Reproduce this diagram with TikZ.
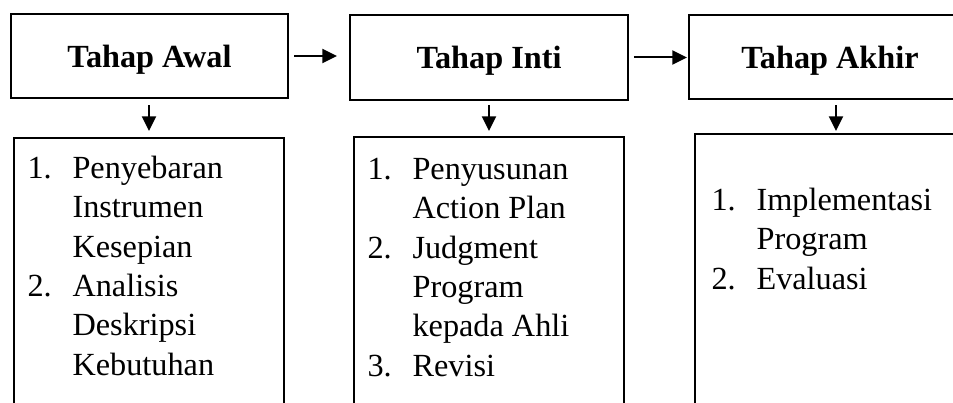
\documentclass[tikz,border=0pt]{standalone}
\usepackage{fontspec}
\setmainfont{Liberation Serif}
\usetikzlibrary{arrows.meta}

\tikzset{every picture/.style={line width=0.75pt}}
\tikzset{
  stagebox/.style={draw, line width=1.4pt, minimum width=208pt, minimum height=63.5pt, inner sep=0pt, text depth=0pt, font=\fontsize{24.2}{29.5}\selectfont\bfseries},
  listbox/.style={draw, line width=1.4pt, minimum width=202.5pt, minimum height=225pt, anchor=north},
  listtext/.style={anchor=north west, inner sep=0pt, font=\fontsize{24.2}{29.5}\selectfont},
  flow/.style={-{Triangle[length=11pt,width=10.5pt]}, line width=1.5pt},
}
\newcommand{\steplist}[1]{\begin{tabular}{@{}p{33.75pt}@{}l@{}}#1\end{tabular}}

\begin{document}
\begin{tikzpicture}[x=0.75pt,y=0.75pt,yscale=-1,xscale=1]
		%set diagram to 953 x 403, lower boxes run off the page
		\path[use as bounding box, clip] (0,0) rectangle (953,403);
		
		%Shape: Rectangle [id:stage headers]
		\node[stagebox] (hA) at (149.5,56) {Tahap Awal};
		\node[stagebox, minimum width=208.5pt] (hB) at (489,57.5) {Tahap Inti};
		\node[stagebox, minimum width=211.5pt] (hC) at (830,57) {Tahap Akhir};
		
		%Shape: Rectangle [id:stage lists]
		\node[listbox] (lA) at (149,137) {};
		\node[listbox] (lB) at (489,136) {};
		\node[listbox, minimum width=211.5pt] (lC) at (836,133) {};
		
		%Straight Lines [id:header arrows]
		\draw[flow, shorten <=3.75pt, shorten >=9pt] (hA.east) -- (hA.east -| hB.west) ;
		\draw[flow, shorten <=3.75pt, shorten >=0.75pt] (hB.east) -- (hB.east -| hC.west) ;
		
		%Straight Lines [id:down arrows]
		\draw[flow, shorten <=4.5pt, shorten >=4.5pt] (hA.south -| lA.north) -- (lA.north) ;
		\draw[flow, shorten <=3pt, shorten >=3.75pt] (hB.south -| lB.north) -- (lB.north) ;
		\draw[flow, shorten <=3.75pt, shorten >=1.5pt] (hC.south -| lC.north) -- (lC.north) ;
		
		% Text Node
		\node[listtext] (tA) at ([shift={(14,13.5)}]lA.north west) {\steplist{
			1. & Penyebaran\\
			   & Instrumen\\
			   & Kesepian\\
			2. & Analisis\\
			   & Deskripsi\\
			   & Kebutuhan}};
		% Text Node
		\node[listtext] (tB) at ([shift={(14,15.5)}]lB.north west) {\steplist{
			1. & Penyusunan\\
			   & Action Plan\\
			2. & Judgment\\
			   & Program\\
			   & kepada Ahli\\
			3. & Revisi}};
		% Text Node
		\node[listtext] (tC) at ([shift={(17,49.5)}]lC.north west) {\steplist{
			1. & Implementasi\\
			   & Program\\
			2. & Evaluasi}};
		
\end{tikzpicture}
\end{document}
